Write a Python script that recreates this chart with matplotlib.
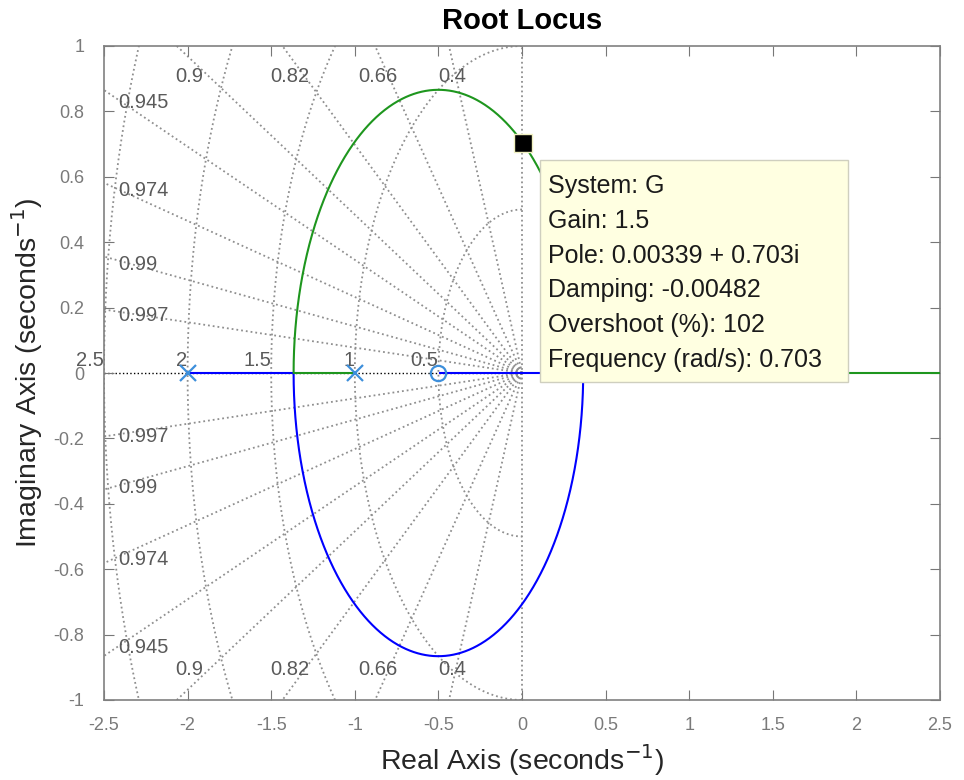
import numpy as np
import matplotlib
matplotlib.use("Agg")
import matplotlib.pyplot as plt
from matplotlib.patches import Rectangle

plt.rcParams['font.family'] = ['Liberation Sans', 'DejaVu Sans']

# ---- System G(s) = num/den (root locus data) ----
num = [-2.0, -1.0]          # -(2s + 1)
den = [1.0, 3.0, 2.0]       # (s + 1)(s + 2)
poles = [-2.0, -1.0]
zeros = [-0.5]

# ---- sgrid values ----
zeta_vals = [0.4, 0.66, 0.82, 0.9, 0.945, 0.974, 0.99, 0.997]
wn_vals = [0.5, 1.0, 1.5, 2.0, 2.5]
wn_labels = ["0.5", "1", "1.5", "2", "2.5"]

# label positions
top_zeta_labels = ["0.9", "0.82", "0.66", "0.4"]
top_zeta_x = [-1.99, -1.39, -0.86, -0.42]
left_zeta_labels = ["0.945", "0.974", "0.99", "0.997"]
left_zeta_y = [0.826, 0.557, 0.333, 0.177]
left_zeta_y_neg = [-0.838, -0.569, -0.349, -0.193]

# data tip
tip_point = (0.00339, 0.703)
tip_lines = ["System: G", "Gain: 1.5", "Pole: 0.00339 + 0.703i",
             "Damping: -0.00482", "Overshoot (%): 102",
             "Frequency (rad/s): 0.703"]

xticks = [-2.5, -2, -1.5, -1, -0.5, 0, 0.5, 1, 1.5, 2, 2.5]
yticks = [-1, -0.8, -0.6, -0.4, -0.2, 0, 0.2, 0.4, 0.6, 0.8, 1]

# ---- compute root locus ----
disc = np.polysub(np.polymul(np.polyder(den), num), np.polymul(np.polyder(num), den))
brk = np.roots(disc).real
kb = sorted([-np.polyval(den, s) / np.polyval(num, s) for s in brk])
gains = np.unique(np.concatenate([
    np.linspace(0, kb[0], 200),
    kb[0] + (kb[1] - kb[0]) * (0.5 - 0.5 * np.cos(np.linspace(0, np.pi, 800))),
    np.linspace(kb[1], 40, 2000)]))
green, blue = [], []
for k in gains:
    r = np.roots(np.polyadd(den, k * np.array(num)))
    r = sorted(r, key=lambda z: (round(z.real, 9), z.imag), reverse=True)
    green.append(r[0]); blue.append(r[1])
green = np.array(green); blue = np.array(blue)

fig = plt.figure(figsize=(9.64, 7.80), dpi=100)
ax = fig.add_axes([104/964, 1 - 700/780, (940-104)/964, (700-46)/780])
ax.set_xlim(-2.5, 2.5)
ax.set_ylim(-1, 1)

gcol = '#8f8f8f'
# damping rays
for z in zeta_vals:
    th = np.arccos(z)
    L = 5.0
    for sgn in (1, -1):
        ax.plot([0, -L * np.cos(th)], [0, sgn * L * np.sin(th)], ls=':', color=gcol, lw=1.3, zorder=1)
# frequency semicircles
phi = np.linspace(np.pi / 2, 3 * np.pi / 2, 400)
for w in wn_vals:
    ax.plot(w * np.cos(phi), w * np.sin(phi), ls=':', color=gcol, lw=1.3, zorder=1)
ax.plot([0, 0], [-1, 1], ls=':', color=gcol, lw=1.3, zorder=1)
ax.plot([-2.5, 0], [0, 0], ls=':', color='black', lw=1.0, zorder=1)

lc = '#5a5a5a'
gfs = 14.5
for t, x in zip(top_zeta_labels, top_zeta_x):
    ax.text(x, 0.908, t, ha='center', va='center', fontsize=gfs, color=lc, zorder=2)
    ax.text(x, -0.908, t, ha='center', va='center', fontsize=gfs, color=lc, zorder=2)
for t, y1, y2 in zip(left_zeta_labels, left_zeta_y, left_zeta_y_neg):
    ax.text(-2.416, y1, t, ha='left', va='center', fontsize=gfs, color=lc, zorder=2)
    ax.text(-2.416, y2, t, ha='left', va='center', fontsize=gfs, color=lc, zorder=2)
for w, t in zip(wn_vals, wn_labels):
    ax.text(-w, 0.022, t, ha='right', va='baseline', fontsize=gfs, color=lc, zorder=2, clip_on=False)

# locus
ax.plot(blue.real, blue.imag, color='#0000ff', lw=1.5, zorder=3)
ax.plot(green.real, green.imag, color='#1e961e', lw=1.5, zorder=3)
mcol = '#3d8fdb'
ax.plot(poles, [0] * len(poles), 'x', color=mcol, ms=11, mew=1.6, zorder=4)
ax.plot(zeros, [0] * len(zeros), 'o', color=mcol, mfc='none', ms=11, mew=1.6, zorder=4)

# data tip
ax.plot(*tip_point, 's', color='black', ms=13, mec='#f0f0c0', mew=1, zorder=6)
ax.add_patch(Rectangle((0.108, -0.0275), 1.95 - 0.108, 0.651 + 0.0275, fc='#ffffe1',
                       ec='#cfcfbf', lw=1, zorder=6))
for i, line in enumerate(tip_lines):
    ax.text(0.1555, 0.572 - i * 0.1064, line, ha='left', va='center', fontsize=18,
            color='#1a1a1a', zorder=7)

# axes styling
ax.set_xticks(xticks)
ax.set_yticks(yticks)
ax.set_xticklabels([f"{v:g}" for v in xticks], family=['Liberation Sans Narrow', 'Liberation Sans'])
ax.set_yticklabels([f"{v:g}" for v in yticks])
ax.tick_params(direction='in', length=7, color='#777777', labelcolor='#7a7a7a', labelsize=13,
               top=True, right=True)
ax.tick_params(axis='x', pad=12)
ax.tick_params(axis='y', pad=14)
for s in ax.spines.values():
    s.set_color('#808080'); s.set_linewidth(1.2)
ax.set_title("Root Locus", fontsize=21, fontweight='bold', pad=12)
ax.set_xlabel("Real Axis (seconds$^{-1}$)", fontsize=20.5, color='#262626', labelpad=6)
ax.set_ylabel("Imaginary Axis (seconds$^{-1}$)", fontsize=20.5, color='#262626', labelpad=6)

fig.savefig("out.png", dpi=100)
